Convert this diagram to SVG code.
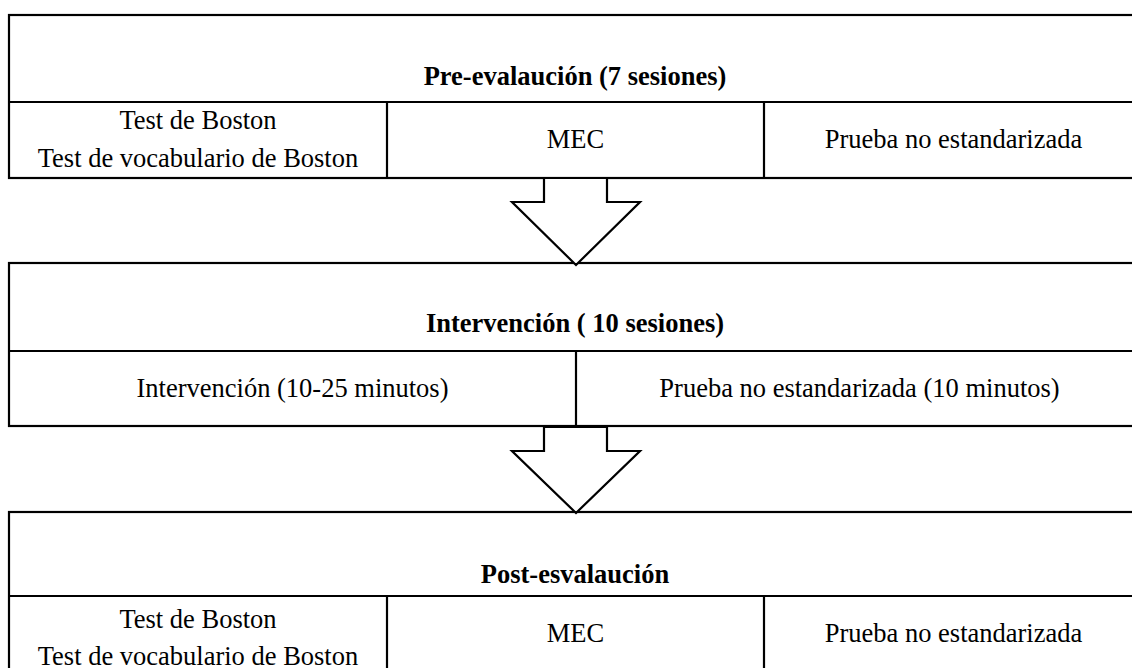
<svg xmlns="http://www.w3.org/2000/svg" width="1132" height="668" viewBox="0 0 1132 668">
<style>
.b{fill:#fff;stroke:#000;stroke-width:2.2}
.l{stroke:#000;stroke-width:2.2;fill:none}
.t{font-family:"Liberation Serif","Times New Roman",serif;font-size:26.5px;fill:#000;text-anchor:middle}
.h{font-weight:bold}
.a{fill:#fff;stroke:#000;stroke-width:2.2;stroke-linejoin:miter}
</style>
<rect width="1132" height="668" fill="#fff"/>
<g id="pre">
<rect class="b" x="9" y="15" width="1134" height="163"/>
<line class="l" x1="9" y1="102" x2="1143" y2="102"/>
<line class="l" x1="387" y1="102" x2="387" y2="178"/>
<line class="l" x1="764" y1="102" x2="764" y2="178"/>
<text class="t h" x="575" y="85">Pre-evalaución (7 sesiones)</text>
<text class="t" x="198" y="129">Test de Boston</text>
<text class="t" x="198" y="167">Test de vocabulario de Boston</text>
<text class="t" x="575.5" y="148">MEC</text>
<text class="t" x="953.5" y="148">Prueba no estandarizada</text>
</g>
<g id="intervencion">
<rect class="b" x="9" y="263" width="1134" height="163"/>
<line class="l" x1="9" y1="351" x2="1143" y2="351"/>
<line class="l" x1="576" y1="351" x2="576" y2="426"/>
<text class="t h" x="575" y="332">Intervención ( 10 sesiones)</text>
<text class="t" x="292.5" y="397">Intervención (10-25 minutos)</text>
<text class="t" x="859.5" y="397">Prueba no estandarizada (10 minutos)</text>
</g>
<g id="post">
<rect class="b" x="9" y="512" width="1134" height="170"/>
<line class="l" x1="9" y1="596" x2="1143" y2="596"/>
<line class="l" x1="387" y1="596" x2="387" y2="682"/>
<line class="l" x1="764" y1="596" x2="764" y2="682"/>
<text class="t h" x="575" y="583">Post-esvalaución</text>
<text class="t" x="198" y="628">Test de Boston</text>
<text class="t" x="198" y="665">Test de vocabulario de Boston</text>
<text class="t" x="575.5" y="642">MEC</text>
<text class="t" x="953.5" y="642">Prueba no estandarizada</text>
</g>
<g id="connectors">
<polygon class="a" points="544,178 544,202 512,202 576,265 640,202 607,202 607,178"/>
<polygon class="a" points="544,427 544,451 512,451 576,513 640,451 607,451 607,427"/>
</g>
</svg>
